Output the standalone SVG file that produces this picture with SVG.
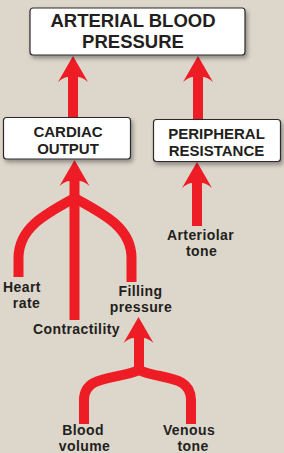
<svg xmlns="http://www.w3.org/2000/svg" width="284" height="453" viewBox="0 0 284 453">
<defs>
<filter id="sh" x="-10%" y="-20%" width="125%" height="150%">
<feDropShadow dx="2" dy="3" stdDeviation="2" flood-color="#000" flood-opacity="0.35"/>
</filter>
<path id="head" d="M0,0 L15,26 Q9,21 5,21 L-5,21 Q-9,21 -15,26 Z"/>
</defs>
<style>
.box{fill:#fff;stroke:#2a2a2a;stroke-width:1.2;filter:url(#sh)}
.t{font-family:"Liberation Sans",Arial,sans-serif;font-weight:bold;fill:#231f20;text-anchor:middle}
.h{font-size:18.5px}
.b{font-size:15px}
.l{font-size:14px;letter-spacing:0.4px}
.sh{fill:none;stroke:#ee1c25;stroke-width:10}
.ah{fill:#ee1c25}
</style>
<rect width="284" height="453" fill="#ddd6cb"/>
<g id="connectors">
<line class="sh" x1="73" y1="75" x2="73" y2="118"/>
<use class="ah" href="#head" x="73" y="56"/>
<line class="sh" x1="198" y1="75" x2="198" y2="120"/>
<use class="ah" href="#head" x="198" y="56"/>
<line class="sh" x1="74.5" y1="178" x2="74.5" y2="320"/>
<path class="sh" d="M74.5,198 C45,214 18.5,228 18.5,258 V277"/>
<path class="sh" d="M74.5,198 C104,214 131.5,228 131.5,258 V282"/>
<use class="ah" href="#head" x="74.5" y="160"/>
<line class="sh" x1="197" y1="180" x2="197" y2="226"/>
<use class="ah" href="#head" x="197" y="162"/>
<line class="sh" x1="139" y1="335" x2="139" y2="372"/>
<path class="sh" d="M139,370 C118,380 84,374 84,400 V424"/>
<path class="sh" d="M139,370 C160,380 191,374 191,400 V424"/>
<use class="ah" href="#head" x="138.5" y="317"/>
</g>
<g id="arterial-blood-pressure">
<rect class="box" x="30" y="8" width="215" height="47" rx="3"/>
<text class="t h" x="133" y="27">ARTERIAL BLOOD</text>
<text class="t h" x="133" y="48">PRESSURE</text>
</g>
<g id="cardiac-output">
<rect class="box" x="3.5" y="117.5" width="127" height="41.5" rx="3"/>
<text class="t b" x="68" y="137">CARDIAC</text>
<text class="t b" x="68" y="154">OUTPUT</text>
</g>
<g id="peripheral-resistance">
<rect class="box" x="153.5" y="119.5" width="127" height="42" rx="3"/>
<text class="t b" x="216.5" y="139">PERIPHERAL</text>
<text class="t b" x="216.5" y="156">RESISTANCE</text>
</g>
<g id="heart-rate">
<text class="t l" x="22" y="292">Heart</text>
<text class="t l" x="26.5" y="308">rate</text>
</g>
<g id="contractility">
<text class="t l" x="76.5" y="334">Contractility</text>
</g>
<g id="filling-pressure">
<text class="t l" x="140.5" y="296">Filling</text>
<text class="t l" x="141" y="312">pressure</text>
</g>
<g id="arteriolar-tone">
<text class="t l" x="200.5" y="239.5">Arteriolar</text>
<text class="t l" x="201.5" y="255.5">tone</text>
</g>
<g id="blood-volume">
<text class="t l" x="83" y="435">Blood</text>
<text class="t l" x="84.5" y="451">volume</text>
</g>
<g id="venous-tone">
<text class="t l" x="189" y="435">Venous</text>
<text class="t l" x="193" y="451">tone</text>
</g>
</svg>
